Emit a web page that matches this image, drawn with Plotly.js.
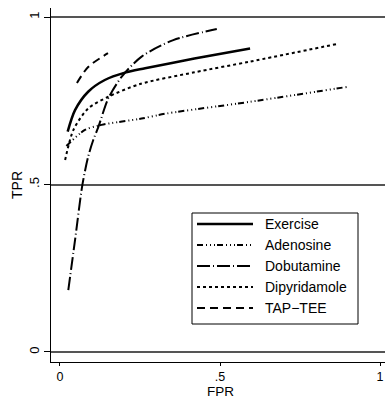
<!DOCTYPE html>
<html>
<head>
<meta charset="utf-8">
<script src="https://cdn.plot.ly/plotly-3.0.1.min.js"></script>
<style>html,body{margin:0;padding:0;background:#fff;}#chart{width:385px;height:399px;}</style>
</head>
<body>
<div id="chart"></div>
<script>
// ---- data ----
var seriesNames = ["Exercise", "Adenosine", "Dobutamine", "Dipyridamole", "TAP\u2212TEE"];

var exerciseFPR = [0.024, 0.047, 0.088, 0.14, 0.203, 0.266, 0.42, 0.594];
var exerciseTPR = [0.658, 0.722, 0.777, 0.812, 0.834, 0.847, 0.876, 0.906];

var adenosineFPR = [0.02, 0.078, 0.13, 0.255, 0.333, 0.594, 0.901];
var adenosineTPR = [0.615, 0.663, 0.678, 0.697, 0.712, 0.747, 0.792];

var dobutamineFPR = [0.026, 0.047, 0.07, 0.088, 0.104, 0.12, 0.151, 0.193, 0.255, 0.354, 0.49];
var dobutamineTPR = [0.185, 0.334, 0.499, 0.583, 0.633, 0.672, 0.757, 0.822, 0.882, 0.931, 0.964];

var dipyridamoleFPR = [0.016, 0.042, 0.088, 0.151, 0.25, 0.42, 0.594, 0.8625];
var dipyridamoleTPR = [0.573, 0.663, 0.727, 0.762, 0.80, 0.835, 0.867, 0.919];

var tapteeFPR = [0.053, 0.088, 0.15];
var tapteeTPR = [0.803, 0.851, 0.892];

var xTickVals = [0, 0.5, 1];
var xTickText = ["0", ".5", "1"];
var yTickVals = [0, 0.5, 1];
var yTickText = ["0", ".5", "1"];
var xTitle = "FPR";
var yTitle = "TPR";

// ---- styles ----
var styles = [
  {dash: "solid", width: 2.5},
  {dash: "6px,3px,1px,3px,1px,3px,1px,2px", width: 2},
  {dash: "13px,3px,1px,3px", width: 2},
  {dash: "3px,3px", width: 2},
  {dash: "8px,5px", width: 2}
];
var xs = [exerciseFPR, adenosineFPR, dobutamineFPR, dipyridamoleFPR, tapteeFPR];
var ys = [exerciseTPR, adenosineTPR, dobutamineTPR, dipyridamoleTPR, tapteeTPR];

var traces = seriesNames.map(function(n, i) {
  return {
    x: xs[i], y: ys[i], name: n, type: "scatter", mode: "lines",
    line: {color: "#000", width: styles[i].width, dash: styles[i].dash, shape: "spline", smoothing: 0.8},
    showlegend: false, hoverinfo: "skip"
  };
});

var W = 385, H = 399;
var mL = 51, mR = 0, mT = 8, mB = 37;
var pw = W - mL - mR, ph = H - mT - mB;
function px2x(p) { return (p - mL) / pw; }
function py2y(p) { return (H - mB - p) / ph; }
var FONT = "Liberation Sans, Arial, sans-serif";

// custom legend (box, samples, labels)
var shapes = [{
  type: "rect", xref: "paper", yref: "paper",
  x0: px2x(192), x1: px2x(358), y0: py2y(324), y1: py2y(213),
  line: {color: "#000", width: 1}, fillcolor: "#fff", layer: "above"
}];
var annotations = [];
var rowY = [224, 245, 266, 287, 308];
seriesNames.forEach(function(n, i) {
  shapes.push({
    type: "line", xref: "paper", yref: "paper",
    x0: px2x(197), x1: px2x(253), y0: py2y(rowY[i]), y1: py2y(rowY[i]),
    line: {color: "#000", width: styles[i].width, dash: styles[i].dash}, layer: "above"
  });
  annotations.push({
    xref: "paper", yref: "paper", x: px2x(263), y: py2y(rowY[i]),
    xanchor: "left", yanchor: "middle", text: n, showarrow: false,
    font: {family: FONT, size: 14, color: "#000"}
  });
});
// axis titles
annotations.push({
  xref: "paper", yref: "paper", x: px2x(220), y: py2y(391),
  xanchor: "center", yanchor: "middle", text: xTitle, showarrow: false, borderpad: 0,
  font: {family: FONT, size: 13.5, color: "#000"}
});
annotations.push({
  xref: "paper", yref: "paper", x: px2x(17), y: py2y(185),
  xanchor: "center", yanchor: "middle", text: yTitle, showarrow: false, textangle: -90,
  font: {family: FONT, size: 14, color: "#000"}
});

var layout = {
  width: W, height: H,
  margin: {l: mL, r: mR, t: mT, b: mB, pad: 0},
  paper_bgcolor: "#fff", plot_bgcolor: "#fff",
  showlegend: false,
  font: {family: FONT, size: 13, color: "#000"},
  xaxis: {
    range: [-0.0281, 1.0156], tickvals: xTickVals, ticktext: xTickText,
    showgrid: false, zeroline: false, showline: true, linecolor: "#000", linewidth: 1,
    ticks: "outside", ticklen: 3, tickcolor: "#000", tickfont: {size: 12.5}
  },
  yaxis: {
    range: [-0.0299, 1.027], tickvals: yTickVals, ticktext: yTickText, tickangle: -90,
    showgrid: true, gridcolor: "#555", gridwidth: 2, zeroline: false,
    showline: true, linecolor: "#000", linewidth: 1,
    ticks: "outside", ticklen: 6, tickcolor: "#000", tickfont: {size: 13}
  },
  shapes: shapes,
  annotations: annotations
};

Plotly.newPlot("chart", traces, layout, {staticPlot: true, displayModeBar: false});
</script>
</body>
</html>
